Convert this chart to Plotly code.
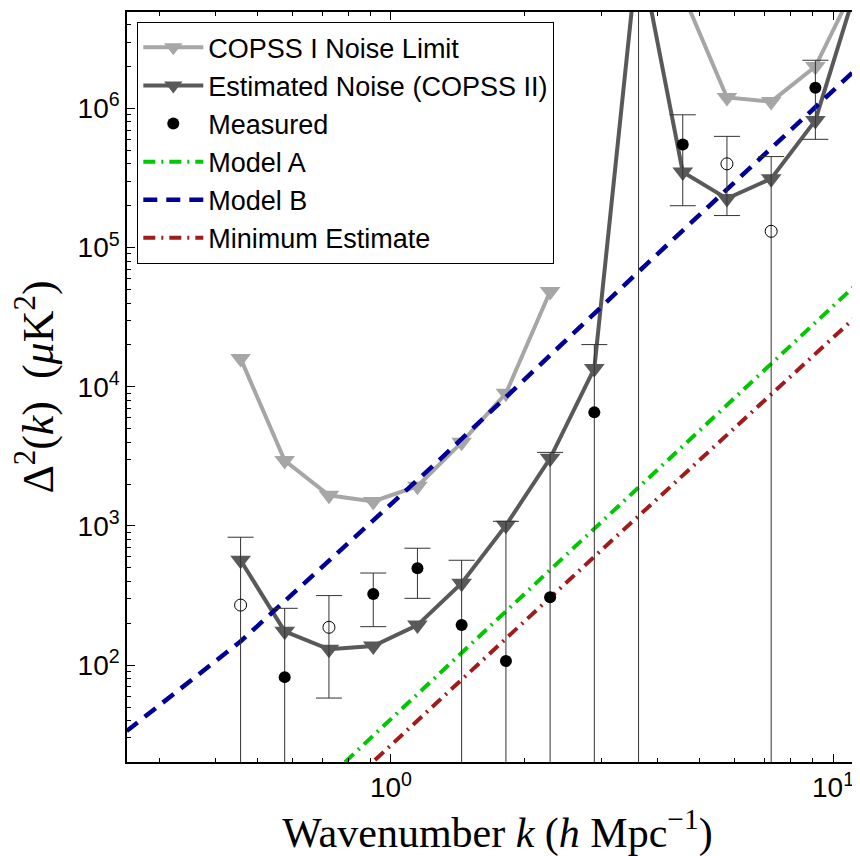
import plotly.graph_objects as go

# ---- data ----
k = [0.457, 0.575, 0.724, 0.912, 1.148, 1.445, 1.820, 2.291, 2.884, 3.631, 4.571, 5.754, 7.244, 9.120, 11.48]
copss1_noise = [16000, 2950, 1660, 1500, 1930, 3990, 8980, 48400, None, None, 6.7e6, 1.2e6, 1.12e6, 2.0e6, 8.9e6]
copss2_noise = [567, 175, 130, 137, 194, 388, 1010, 3060, 13550, 1.5e7, 3.5e5, 2.25e5, 3.13e5, 8.2e5, 8.8e6]
measured = [-270, 82, -187, 324, 497, 194, 107, 308, 6550, 1.0e7, 5.5e5, -4.0e5, -1.31e5, 1.41e6, 7.0e6]
measured_err = [560, 174, 129, 135, 195, 373, 973, 3070, 13550, 1.5e7, 3.5e5, 2.3e5, 3.2e5, 8.1e5, 8.8e6]

modelA_k = [0.787, 2.514, 12.0]
modelA_val = [20.1, 637, 65200]
modelB_k = [0.2524, 0.458, 1.277, 3.756, 11.5, 12.0]
modelB_val = [33.6, 149, 2911, 74300, 2.03e6, 2.3e6]
minest_k = [0.920, 2.94, 12.0]
minest_val = [20.8, 637, 38400]

x_tick_vals = [1, 10]
x_tick_text = ['10<sup>0</sup>', '10<sup>1</sup>']
y_tick_vals = [1e2, 1e3, 1e4, 1e5, 1e6]
y_tick_text = ['10<sup>2</sup>', '10<sup>3</sup>', '10<sup>4</sup>', '10<sup>5</sup>', '10<sup>6</sup>']

x_minor = [m * 10 ** e for e in (-1, 0, 1) for m in range(2, 10)]
y_minor = [m * 10 ** e for e in range(1, 7) for m in range(2, 10)]

abs_meas = [abs(v) for v in measured]
meas_pos = [v if v > 0 else None for v in measured]
meas_neg = [-v if v < 0 else None for v in measured]

LIGHT = '#a6a6a6'
DARK = '#595959'

fig = go.Figure()
fig.add_trace(go.Scatter(x=k, y=copss1_noise, mode='lines+markers', name='COPSS I Noise Limit',
                         line=dict(color=LIGHT, width=4),
                         marker=dict(symbol='triangle-down', size=18, color=LIGHT),
                         legendrank=1))
fig.add_trace(go.Scatter(x=k, y=copss2_noise, mode='lines+markers', name='Estimated Noise (COPSS II)',
                         line=dict(color=DARK, width=4),
                         marker=dict(symbol='triangle-down', size=18, color=DARK),
                         legendrank=2))
fig.add_trace(go.Scatter(x=modelA_k, y=modelA_val, mode='lines', name='Model A',
                         line=dict(color='#00c800', width=4, dash='12px,6px,2px,6px'),
                         legendrank=4))
fig.add_trace(go.Scatter(x=modelB_k, y=modelB_val, mode='lines', name='Model B',
                         line=dict(color='#000099', width=4.5, dash='14px,9px'),
                         legendrank=5))
fig.add_trace(go.Scatter(x=minest_k, y=minest_val, mode='lines', name='Minimum Estimate',
                         line=dict(color='#a01c1c', width=4, dash='12px,6px,2px,6px'),
                         legendrank=6))
# error bars
fig.add_trace(go.Scatter(x=k, y=abs_meas, mode='markers', showlegend=False, hoverinfo='skip',
                         marker=dict(size=1, color='rgba(0,0,0,0)'),
                         error_y=dict(type='data', array=measured_err, arrayminus=measured_err,
                                      color='#333333', thickness=1, width=13)))
fig.add_trace(go.Scatter(x=k, y=meas_pos, mode='markers', name='Measured',
                         marker=dict(symbol='circle', size=12, color='black'),
                         legendrank=3))
fig.add_trace(go.Scatter(x=k, y=meas_neg, mode='markers', showlegend=False,
                         marker=dict(symbol='circle-open', size=12, color='black', line=dict(width=1))))

axis_common = dict(type='log', showline=True, linecolor='black', linewidth=1.5,
                   ticks='inside', ticklen=8, tickwidth=1.2, tickcolor='black',
                   showgrid=False, zeroline=False, tickmode='array',
                   tickfont=dict(family='Liberation Sans, Arial, sans-serif', size=28, color='black'))

title_font = dict(family='Liberation Serif, Times New Roman, serif', size=42, color='black')

fig.update_xaxes(**axis_common, range=[-0.597, 1.079], mirror='ticks',
                 tickvals=x_tick_vals, ticktext=x_tick_text,
                 minor=dict(tickvals=x_minor, ticks='inside', ticklen=4, tickwidth=1, tickcolor='black', showgrid=False),
                 title=dict(text='Wavenumber <i>k</i> (<i>h</i> Mpc<sup>\u22121</sup>)',
                            font=title_font, standoff=0))
fig.update_yaxes(**axis_common, range=[1.304, 6.693],
                 tickvals=y_tick_vals, ticktext=y_tick_text,
                 minor=dict(tickvals=y_minor, ticks='inside', ticklen=4, tickwidth=1, tickcolor='black', showgrid=False),
                 title=dict(text='\u0394<sup>2</sup>(<i>k</i>)  (<i>\u03bc</i>K<sup>2</sup>)',
                            font=dict(family='Liberation Serif, Times New Roman, serif', size=44, color='black'),
                            standoff=10))

fig.update_layout(width=860, height=856,
                  margin=dict(l=119, r=0, t=4, b=102, autoexpand=False),
                  plot_bgcolor='white', paper_bgcolor='white',
                  font=dict(family='Liberation Sans, Arial, sans-serif', size=27, color='black'),
                  legend=dict(x=0.0135, y=0.9867, xanchor='left', yanchor='top',
                              bgcolor='white', bordercolor='black', borderwidth=1.3,
                              font=dict(family='Liberation Sans, Arial, sans-serif', size=27, color='black'),
                              itemwidth=60, tracegroupgap=0))

fig.write_html('out.html')
